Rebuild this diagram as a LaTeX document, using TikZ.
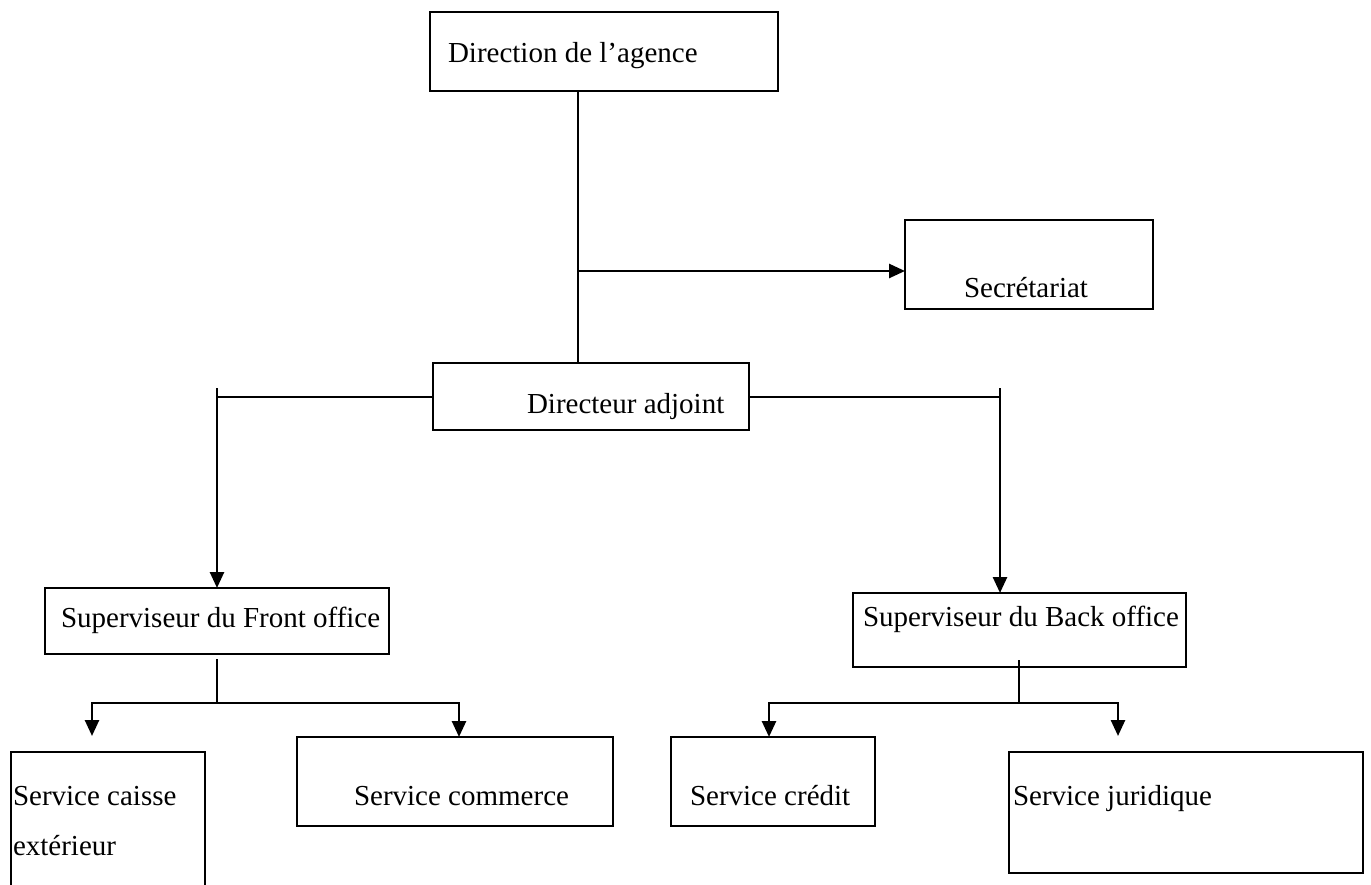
\documentclass[tikz,border=0pt]{standalone}
\usepackage{fontspec}
\setmainfont{Liberation Serif}
\usetikzlibrary{arrows.meta}
\begin{document}
\begin{tikzpicture}[x=1pt,y=-1pt,
  orgbox/.style={draw, line width=2pt, inner sep=0pt, outer sep=0pt, anchor=north west},
  lbl/.style={anchor=base west, inner sep=0pt, outer sep=0pt, font=\fontsize{29}{34}\selectfont},
  conn/.style={line width=2pt, line cap=rect},
  arr/.style={line width=2.6pt, -{Triangle[length=16pt,width=14pt]}}]
\useasboundingbox (0,0) rectangle (1371,885);
\clip (0,0) rectangle (1371,885);
% boxes
\node[orgbox, minimum width=348pt, minimum height=79pt] (dir) at (430,12) {};
\node[orgbox, minimum width=248pt, minimum height=89pt] (sec) at (905,220) {};
\node[orgbox, minimum width=316pt, minimum height=67pt] (adj) at (433,363) {};
\node[orgbox, minimum width=344pt, minimum height=66pt] (front) at (45,588) {};
\node[orgbox, minimum width=333pt, minimum height=74pt] (back) at (853,593) {};
\node[orgbox, minimum width=194pt, minimum height=150pt] (caisse) at (11,752) {};
\node[orgbox, minimum width=316pt, minimum height=89pt] (comm) at (297,737) {};
\node[orgbox, minimum width=204pt, minimum height=89pt] (cred) at (671,737) {};
\node[orgbox, minimum width=354pt, minimum height=121pt] (jur) at (1009,752) {};
% labels
\node[lbl] (tdir) at (448,63) {Direction de l’agence};
\node[lbl] (tsec) at (964,298) {Secrétariat};
\node[lbl] (tadj) at (527,413) {Directeur adjoint};
\node[lbl] (tfront) at (61,627) {Superviseur du Front office};
\node[lbl] (tback) at (863,626) {Superviseur du Back office};
\node[lbl] (tcai1) at (13,805) {Service caisse};
\node[lbl] (tcai2) at (13,855) {extérieur};
\node[lbl] (tcomm) at (354,805) {Service commerce};
\node[lbl] (tcred) at (690,805) {Service crédit};
\node[lbl] (tjur) at (1013,805) {Service juridique};
% connectors
\coordinate (t1) at (578,0);
\draw[conn] (dir.south -| t1) -- (adj.north -| t1);
\coordinate (a1) at (578,271);
\draw[arr] (a1) -- (sec.west |- a1);
\coordinate (fl) at (217,388);
\coordinate (br) at (1000,388);
\draw[conn] (adj.west) -- (fl |- adj.west);
\draw[conn] (adj.east) -- (br |- adj.east);
\draw[arr] (fl) -- (front.north -| fl);
\draw[arr] (br) -- (back.north -| br);
% front office branch
\coordinate (fs) at (217,660);
\coordinate (fh) at (217,703);
\coordinate (fa) at (92,703);
\coordinate (fb) at (459,703);
\coordinate (ca) at (92,736);
\draw[conn] (fs) -- (fh);
\draw[conn] (fa) -- (fb);
\draw[arr] (fa) -- (ca);
\draw[arr] (fb) -- (comm.north -| fb);
% back office branch
\coordinate (bs) at (1019,661);
\coordinate (bh) at (1019,703);
\coordinate (ba) at (769,703);
\coordinate (bb) at (1118,703);
\coordinate (jt) at (1118,736);
\draw[conn] (bs) -- (bh);
\draw[conn] (ba) -- (bb);
\draw[arr] (ba) -- (cred.north -| ba);
\draw[arr] (bb) -- (jt);
\end{tikzpicture}
\end{document}
